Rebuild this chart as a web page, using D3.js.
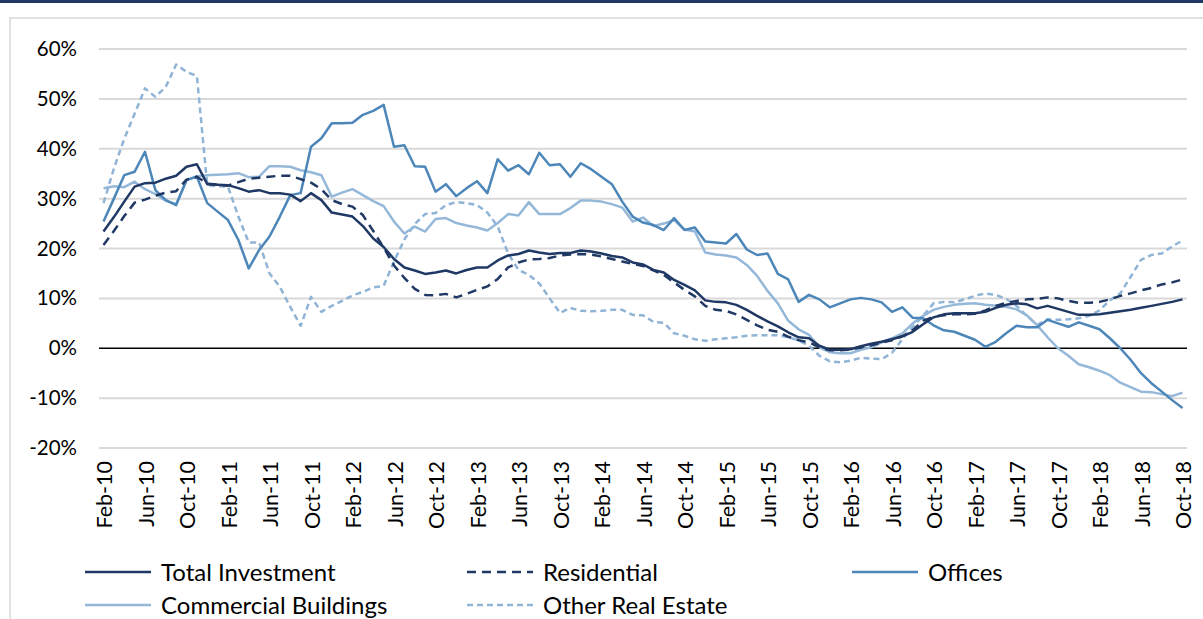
<!DOCTYPE html>
<html>
<head>
<meta charset="utf-8">
<script src="https://cdn.jsdelivr.net/npm/d3@7"></script>
<style>
  body { margin: 0; background: #fff; }
  text { font-family: Lato, 'Open Sans', sans-serif; fill: #000; }
</style>
</head>
<body>
<div id="chart"></div>
<script>
// monthly categories Feb-10 .. Oct-18
let months = d3.timeMonth.range(new Date(2010, 1, 1), new Date(2018, 10, 1))
let formatMonth = d3.timeFormat('%b-%y')
let categories = months.map(formatMonth)

let totalInvestment = [
  23.4, 26.3, 29.4, 32.4, 33.1, 33.2, 34.0, 34.6, 36.4, 36.9,
  32.9, 32.8, 32.7, 32.1, 31.4, 31.7, 31.1, 31.1, 30.8, 29.5,
  31.1, 29.7, 27.2, 26.8, 26.4, 24.5, 22.0, 20.3, 17.9, 16.2,
  15.6, 14.9, 15.2, 15.6, 15.0, 15.7, 16.2, 16.2, 17.6, 18.6,
  18.9, 19.6, 19.2, 18.9, 19.1, 19.1, 19.6, 19.4, 19.0, 18.5,
  18.2, 17.2, 16.8, 15.7, 15.2, 13.7, 12.7, 11.6, 9.6, 9.3,
  9.2, 8.7, 7.7, 6.5, 5.4, 4.4, 3.2, 2.2, 2.0, 0.5,
  -0.3, -0.3, -0.2, 0.4, 0.9, 1.3, 1.8, 2.4, 3.3, 4.8,
  6.2, 6.8, 7.0, 7.0, 7.0, 7.3, 8.1, 8.7, 9.0, 8.8,
  8.0, 8.5, 7.9, 7.3, 6.7, 6.7, 6.8, 7.1, 7.4, 7.7,
  8.1, 8.5, 8.9, 9.3, 9.8
]

let residential = [
  20.7, 23.5, 26.5, 29.2, 29.8, 30.6, 31.2, 31.5, 33.8, 34.4,
  33.0, 32.8, 32.6, 33.3, 34.0, 34.2, 34.4, 34.6, 34.6, 33.9,
  33.2, 31.9, 29.7, 28.9, 28.4, 26.7, 23.5, 20.2, 16.6, 14.1,
  11.9, 10.7, 10.6, 10.9, 10.2, 10.9, 11.7, 12.4, 13.9, 16.2,
  17.2, 17.8, 17.9, 18.1, 18.6, 18.8, 18.9, 18.8, 18.4, 17.9,
  17.4, 16.9, 16.5, 15.6, 14.7, 13.2, 11.7, 10.4, 8.5, 7.7,
  7.5, 6.8, 5.7, 4.6, 3.7, 3.3, 2.3, 1.6, 1.2, 0.2,
  -0.4, -0.4, -0.3, 0.2, 0.6, 1.1, 1.6, 2.4, 3.6, 5.5,
  6.3, 6.6, 6.8, 6.8, 6.9, 7.6, 8.5, 9.1, 9.5, 9.8,
  9.9, 10.2, 10.0, 9.5, 9.1, 9.1, 9.3, 9.8, 10.5, 11.0,
  11.6, 12.1, 12.8, 13.2, 13.8
]

let offices = [
  25.4, 30.0, 34.7, 35.4, 39.4, 31.7, 29.7, 28.7, 33.7, 34.4,
  29.1, 27.4, 25.7, 21.7, 16.0, 19.7, 22.4, 26.4, 30.7, 31.1,
  40.4, 42.1, 45.1, 45.1, 45.2, 46.8, 47.6, 48.8, 40.4, 40.7,
  36.5, 36.4, 31.4, 32.9, 30.5, 32.1, 33.5, 31.1, 37.9, 35.6,
  36.7, 34.9, 39.2, 36.7, 36.9, 34.4, 37.1, 35.9, 34.4, 32.9,
  29.4, 26.4, 25.2, 24.7, 23.7, 26.1, 23.7, 24.2, 21.4, 21.2,
  21.0, 22.9, 19.8, 18.7, 19.0, 14.9, 13.8, 9.3, 10.7, 9.8,
  8.2, 9.0, 9.8, 10.1, 9.8, 9.2, 7.3, 8.2, 6.1, 6.0,
  4.6, 3.6, 3.3, 2.5, 1.7, 0.3, 1.3, 3.0, 4.5, 4.2,
  4.2, 5.7, 5.0, 4.3, 5.2, 4.5, 3.8, 2.0, 0.0, -2.3,
  -5.0, -7.0, -8.7, -10.4, -12.0
]

let commercialBuildings = [
  32.1, 32.5, 32.3, 33.4, 31.9, 30.9, 29.6, 28.9, 33.7, 34.5,
  34.7, 34.8, 34.9, 35.1, 34.3, 34.4, 36.5, 36.5, 36.4, 35.7,
  35.3, 34.7, 30.4, 31.2, 31.9, 30.7, 29.5, 28.5, 25.4, 23.0,
  24.4, 23.4, 25.9, 26.1, 25.1, 24.6, 24.2, 23.6, 25.1, 26.9,
  26.6, 29.3, 26.9, 26.9, 26.9, 28.1, 29.6, 29.6, 29.4, 28.9,
  28.2, 25.4, 26.2, 24.5, 25.0, 25.7, 23.8, 23.4, 19.2, 18.8,
  18.6, 18.2, 16.7, 14.5, 11.5, 9.0, 5.5, 3.8, 2.7, 0.2,
  -0.8, -1.0, -1.0, -0.3, 0.2, 1.2, 2.0, 3.0, 5.0, 6.5,
  7.7, 8.3, 8.7, 8.9, 9.0, 8.7, 8.5, 8.3, 7.8, 6.6,
  4.6, 2.2, 0.0, -1.5, -3.2, -3.8, -4.5, -5.4, -6.9, -7.8,
  -8.7, -8.8, -9.2, -9.6, -8.9
]

let otherRealEstate = [
  29.1, 36.0, 42.0, 47.0, 52.1, 50.4, 52.4, 56.9, 55.4, 54.6,
  32.7, 32.5, 32.4, 26.4, 21.2, 21.2, 15.0, 12.3, 8.3, 4.5,
  10.3, 7.3, 8.5, 9.5, 10.6, 11.3, 12.2, 12.5, 17.4, 21.8,
  24.9, 26.9, 27.1, 28.7, 29.3, 29.1, 28.7, 27.2, 24.4, 19.0,
  15.7, 14.7, 13.0, 10.0, 7.1, 8.1, 7.5, 7.4, 7.5, 7.7,
  7.7, 6.7, 6.6, 5.3, 5.1, 3.0, 2.5, 1.8, 1.5, 1.8,
  2.0, 2.2, 2.5, 2.6, 2.6, 2.6, 2.2, 1.6, 0.5, -1.5,
  -2.6, -2.8, -2.5, -1.9, -2.1, -2.2, -0.9, 1.8, 4.3, 6.5,
  9.0, 9.3, 9.2, 9.8, 10.5, 11.0, 10.7, 9.9, 8.5, 6.5,
  4.7, 5.8, 5.7, 5.8, 6.0, 6.5, 7.6, 9.6, 11.0, 14.3,
  17.7, 18.7, 19.0, 20.4, 21.6
]

let yTicks = [-20, -10, 0, 10, 20, 30, 40, 50, 60]

let series = [
  { name: 'Total Investment', values: totalInvestment, color: '#1f3864', dash: null },
  { name: 'Residential', values: residential, color: '#1f3864', dash: '9,6' },
  { name: 'Offices', values: offices, color: '#4d86b8', dash: null },
  { name: 'Commercial Buildings', values: commercialBuildings, color: '#95b8d9', dash: null },
  { name: 'Other Real Estate', values: otherRealEstate, color: '#8fb4d6', dash: '6,4' }
]

let width = 1203
let height = 619

let svg = d3
  .select('#chart')
  .append('svg')
  .attr('width', width)
  .attr('height', height)

// frame
svg.append('rect')
  .attr('x', 0).attr('y', 0)
  .attr('width', width).attr('height', 3)
  .attr('fill', '#1f3864')

svg.append('rect')
  .attr('x', 10).attr('y', 18)
  .attr('width', 1300).attr('height', 700)
  .attr('fill', 'none')
  .attr('stroke', '#d9d9d9')
  .attr('stroke-width', 1.5)

let plotLeft = 99
let plotRight = 1187

let xScale = d3
  .scalePoint()
  .domain(categories)
  .range([103.5, 1182.5])

let yScale = d3
  .scaleLinear()
  .domain([-20, 60])
  .range([448, 49])

// gridlines
svg.append('g')
  .selectAll('line')
  .data(yTicks.filter(d => d !== 0))
  .enter()
  .append('line')
  .attr('x1', plotLeft)
  .attr('x2', plotRight)
  .attr('y1', d => yScale(d))
  .attr('y2', d => yScale(d))
  .attr('stroke', '#d9d9d9')
  .attr('stroke-width', 2)

// y labels
let yAxis = d3.axisLeft(yScale)
  .tickValues(yTicks)
  .tickSize(0)
  .tickPadding(0)
  .tickFormat(d => d + '%')

svg.append('g')
  .attr('transform', 'translate(77,0)')
  .call(yAxis)
  .call(g => g.select('.domain').remove())
  .selectAll('text')
  .attr('font-size', 20.5)
  .attr('font-family', 'Lato, sans-serif')
  .attr('fill', '#000')

// x labels every 4 months
let xAxis = d3.axisBottom(xScale)
  .tickValues(categories.filter((d, i) => i % 4 === 0))
  .tickSize(0)
  .tickPadding(0)

svg.append('g')
  .attr('transform', 'translate(0,' + yScale(-20) + ')')
  .call(xAxis)
  .call(g => g.select('.domain').remove())
  .selectAll('text')
  .attr('font-size', 21.5)
  .attr('font-family', 'Lato, sans-serif')
  .attr('fill', '#000')
  .attr('text-anchor', 'end')
  .attr('transform', 'rotate(-90)')
  .attr('x', -13)
  .attr('y', 0)
  .attr('dy', '0.38em')

// zero line
svg.append('line')
  .attr('x1', plotLeft)
  .attr('x2', plotRight)
  .attr('y1', yScale(0))
  .attr('y2', yScale(0))
  .attr('stroke', '#000')
  .attr('stroke-width', 1.5)

let line = d3.line()
  .x((d, i) => xScale(categories[i]))
  .y(d => yScale(d))

// draw back to front like the original
let drawOrder = [4, 3, 2, 1, 0]

svg.append('g')
  .selectAll('path')
  .data(drawOrder.map(i => series[i]))
  .enter()
  .append('path')
  .attr('d', d => line(d.values))
  .attr('fill', 'none')
  .attr('stroke', d => d.color)
  .attr('stroke-width', 2.5)
  .attr('stroke-dasharray', d => d.dash)
  .attr('stroke-linejoin', 'round')

// legend
let legendPos = [
  { x: 85, y: 572 },
  { x: 467, y: 572 },
  { x: 852, y: 572 },
  { x: 85, y: 605 },
  { x: 467, y: 605 }
]

let legend = svg.append('g')
  .selectAll('g')
  .data(series)
  .enter()
  .append('g')
  .attr('transform', (d, i) => 'translate(' + legendPos[i].x + ',' + legendPos[i].y + ')')

legend.append('line')
  .attr('x1', 0)
  .attr('x2', 66)
  .attr('stroke', d => d.color)
  .attr('stroke-width', 2.5)
  .attr('stroke-dasharray', d => d.dash)

legend.append('text')
  .attr('x', 76)
  .attr('dy', '0.36em')
  .attr('font-size', 24)
  .text(d => d.name)
</script>
</body>
</html>
